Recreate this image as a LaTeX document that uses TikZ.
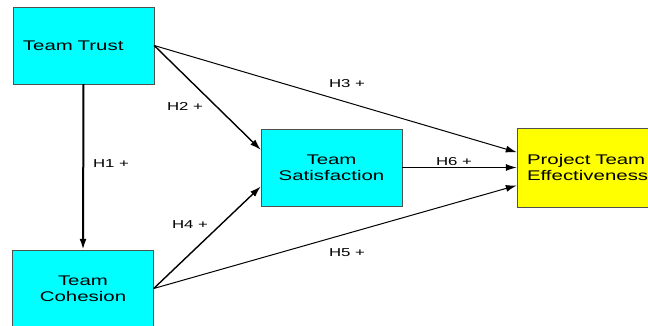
\documentclass[tikz,border=0pt]{standalone}
\usepackage{fontspec}
\setmainfont{Liberation Sans}[FakeStretch=1.46]
\usepackage{tikz}
\usetikzlibrary{arrows.meta}

\definecolor{boxcyan}{RGB}{0,255,255}
\definecolor{boxyellow}{RGB}{255,255,0}
\definecolor{boxline}{RGB}{80,80,80}

\tikzset{
    construct/.style={draw=boxline, fill=boxcyan, minimum width=141pt, minimum height=77pt,
        inner sep=0pt, align=center, font=\fontsize{14}{16}\selectfont},
    outcome/.style={construct, fill=boxyellow, minimum width=143pt, minimum height=79pt},
    link/.style={draw, line width=1pt, -{Latex[length=11pt,width=7pt]}},
    hyp/.style={font=\fontsize{11.5}{13}\selectfont}
}

\begin{document}
\begin{tikzpicture}[x=1pt, y=-1pt]
    \useasboundingbox (0,0) rectangle (648,325);

    \node[construct, align=left, text width=121pt] (trust) at (83.5,45.5) {Team Trust};
    \node[construct] (cohesion) at (83,288.5) {Team\\Cohesion};
    \node[construct] (satis) at (331.5,167.5) {Team\\Satisfaction};
    \node[outcome, align=left, text width=123pt] (effect) at (588.5,167.5) {Project Team\\Effectiveness};

    \draw[link, line width=2pt] (trust.south) -- (cohesion.north);
    \draw[link, line width=1.4pt] (trust.east) -- (satis.166);
    \draw[link] (trust.east) -- (effect.168);
    \draw[link, line width=1.4pt] (cohesion.east) -- (satis.195);
    \draw[link] (cohesion.east) -- (effect.194);
    \draw[link] (satis.east) -- (effect.west);

    \node[hyp] (h1) at (111,164) {H1 +};
    \node[hyp] (h2) at (185,106) {H2 +};
    \node[hyp] (h3) at (347,84) {H3 +};
    \node[hyp] (h4) at (190,225) {H4 +};
    \node[hyp] (h5) at (347,253) {H5 +};
    \node[hyp] (h6) at (454,162) {H6 +};
\end{tikzpicture}
\end{document}
